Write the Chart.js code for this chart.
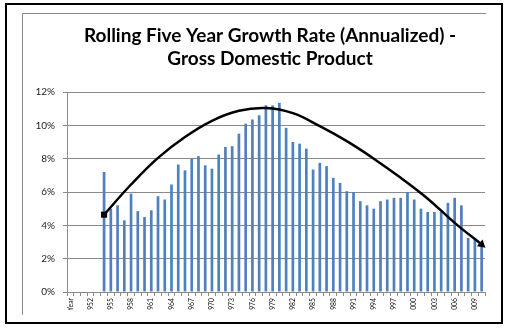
<!DOCTYPE html>
<html>
<head>
<meta charset="utf-8">
<script src="https://cdn.jsdelivr.net/npm/chart.js@4/dist/chart.umd.min.js"></script>
<style>
  html, body { margin: 0; padding: 0; background: #fff; }
  body { width: 508px; height: 329px; position: relative; overflow: hidden; }
  #frame {
    position: absolute; left: 5px; top: 3px; width: 498px; height: 321px;
    box-sizing: border-box; border: 2px solid #000;
  }
  #sheet {
    position: absolute; left: 22px; top: 13px; width: 464px; height: 297px;
    box-sizing: border-box; border-top: 1px solid #8a8a8a; border-left: 1px solid #8a8a8a;
    overflow: hidden;
  }
  #edge {
    position: absolute; left: 22px; top: 13px; width: 1px; height: 302px; background: #8a8a8a;
  }
  #sheet canvas { position: absolute; left: 0; top: 0; }
</style>
</head>
<body>
<div id="frame"></div>
<div id="edge"></div>
<div id="sheet"><canvas id="gdp" width="494" height="320"></canvas></div>
<script>
// Axis categories (the header cell "Year" was picked up as the first category)
const categories = [
  'Year', '1950', '1951', '1952', '1953', '1954', '1955', '1956', '1957', '1958', '1959',
  '1960', '1961', '1962', '1963', '1964', '1965', '1966', '1967', '1968', '1969',
  '1970', '1971', '1972', '1973', '1974', '1975', '1976', '1977', '1978', '1979',
  '1980', '1981', '1982', '1983', '1984', '1985', '1986', '1987', '1988', '1989',
  '1990', '1991', '1992', '1993', '1994', '1995', '1996', '1997', '1998', '1999',
  '2000', '2001', '2002', '2003', '2004', '2005', '2006', '2007', '2008', '2009',
  '2010'
];

// Rolling five-year annualized GDP growth, percent
const growthYears = [
  '1954', '1955', '1956', '1957', '1958', '1959', '1960', '1961', '1962', '1963',
  '1964', '1965', '1966', '1967', '1968', '1969', '1970', '1971', '1972', '1973',
  '1974', '1975', '1976', '1977', '1978', '1979', '1980', '1981', '1982', '1983',
  '1984', '1985', '1986', '1987', '1988', '1989', '1990', '1991', '1992', '1993',
  '1994', '1995', '1996', '1997', '1998', '1999', '2000', '2001', '2002', '2003',
  '2004', '2005', '2006', '2007', '2008', '2009', '2010'
];
const growthRates = [
  7.2, 5.0, 5.2, 4.3, 5.9, 4.85, 4.5, 4.9, 5.75, 5.55,
  6.45, 7.65, 7.3, 8.0, 8.15, 7.6, 7.4, 8.25, 8.7, 8.75,
  9.5, 10.1, 10.35, 10.6, 11.2, 11.2, 11.35, 9.85, 9.0, 8.9,
  8.6, 7.35, 7.75, 7.55, 6.85, 6.55, 6.05, 6.0, 5.45, 5.2,
  5.0, 5.45, 5.55, 5.65, 5.65, 6.0, 5.55, 5.0, 4.8, 4.8,
  4.8, 5.35, 5.65, 5.2, 3.25, 3.15, 2.85
];

// Trend curve, sampled every four years
const trendYears = ['1954', '1958', '1962', '1966', '1970', '1974', '1978', '1982',
                    '1986', '1990', '1994', '1998', '2002', '2006', '2010'];
const trendValues = [4.64, 6.45, 8.05, 9.3, 10.27, 10.87, 11.04, 10.73,
                     9.95, 9.05, 8.0, 6.85, 5.6, 4.15, 2.85];

// Y axis tick values, percent
const yTicks = [0, 2, 4, 6, 8, 10, 12];

const titleLines = ['Rolling Five Year Growth Rate (Annualized) -', 'Gross Domestic Product'];

const barData = categories.map(c => {
  const i = growthYears.indexOf(c);
  return i < 0 ? null : growthRates[i];
});
const trendData = categories.map(c => {
  const i = trendYears.indexOf(c);
  return i < 0 ? null : trendValues[i];
});
const firstTrend = categories.indexOf(trendYears[0]);
const lastTrend = categories.indexOf(trendYears[trendYears.length - 1]);
const trendStyle = categories.map((c, i) => i === firstTrend ? 'rect' : (i === lastTrend ? 'triangle' : false));
const trendRadius = categories.map((c, i) => i === firstTrend ? 4.3 : (i === lastTrend ? 5 : 0));

const GRID = '#8a8a8a';

// Two-line heading drawn centred above the plot
const heading = {
  id: 'heading',
  afterDraw(chart) {
    const ctx = chart.ctx;
    ctx.save();
    ctx.fillStyle = '#000';
    ctx.font = 'bold 19px Lato, "Open Sans", sans-serif';
    ctx.textAlign = 'center';
    ctx.textBaseline = 'alphabetic';
    ctx.fillText(titleLines[0], 247, 27.7);
    ctx.fillText(titleLines[1], 247, 51);
    ctx.restore();
  }
};

new Chart(document.getElementById('gdp'), {
  data: {
    labels: categories,
    datasets: [
      {
        type: 'line',
        label: 'Trend',
        data: trendData,
        order: 0,
        spanGaps: true,
        tension: 0.4,
        borderColor: '#000',
        backgroundColor: '#000',
        borderWidth: 2.5,
        pointStyle: trendStyle,
        pointRadius: trendRadius,
        pointRotation: categories.map((c, i) => i === lastTrend ? 130 : 0),
        pointBorderWidth: 0,
        pointBackgroundColor: '#000'
      },
      {
        type: 'bar',
        label: 'Growth',
        data: barData,
        order: 1,
        backgroundColor: '#4f81bd',
        barPercentage: 0.4,
        categoryPercentage: 1.0
      }
    ]
  },
  options: {
    responsive: false,
    animation: false,
    devicePixelRatio: 1,
    layout: { padding: { top: 78, right: 32, left: 0, bottom: 0 } },
    plugins: {
      legend: { display: false },
      tooltip: { enabled: false },
      title: { display: false }
    },
    scales: {
      x: {
        type: 'category',
        offset: true,
        grid: {
          offset: true,
          drawOnChartArea: false,
          drawTicks: true,
          tickLength: 4,
          color: GRID
        },
        border: { display: true, color: GRID, width: 1 },
        ticks: {
          autoSkip: false,
          maxRotation: 90,
          minRotation: 90,
          padding: 2,
          color: '#111',
          font: { family: 'Lato, sans-serif', size: 6.8 },
          callback: function (value, index) {
            return index % 3 === 0 ? this.getLabelForValue(value) : '';
          }
        },
        afterFit(scale) { scale.height = 42; }
      },
      y: {
        min: 0,
        max: 12,
        afterBuildTicks(scale) { scale.ticks = yTicks.map(v => ({ value: v })); },
        grid: {
          color: GRID,
          lineWidth: 1,
          drawTicks: true,
          tickLength: 4
        },
        border: { display: true, color: GRID, width: 1 },
        ticks: {
          padding: 8,
          color: '#222',
          font: { family: 'Lato, sans-serif', size: 10 },
          callback: v => v + '%'
        },
        afterFit(scale) { scale.width = 44; }
      }
    }
  },
  plugins: [heading]
});
</script>
</body>
</html>
